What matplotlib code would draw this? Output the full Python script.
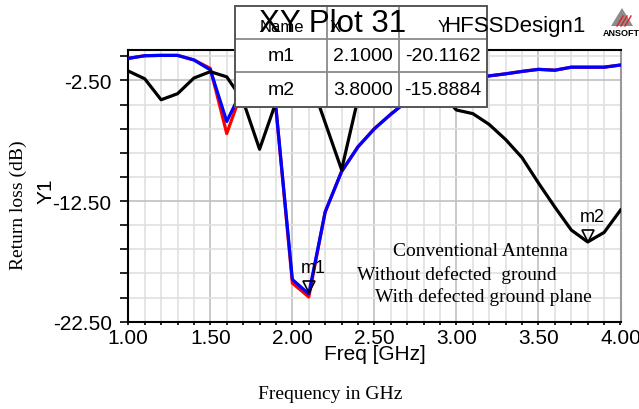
import matplotlib
matplotlib.use("Agg")
import matplotlib.pyplot as plt
from matplotlib.patches import Rectangle, Polygon
from matplotlib.transforms import offset_copy
import numpy as np

# ---------------- data ----------------
freq = [1.0, 1.1, 1.2, 1.3, 1.4, 1.5, 1.6, 1.7, 1.8, 1.9,
        2.0, 2.1, 2.2, 2.3, 2.4, 2.5, 2.6, 2.7, 2.8, 2.9,
        3.0, 3.1, 3.2, 3.3, 3.4, 3.5, 3.6, 3.7, 3.8, 3.9, 4.0]

conventional = [-1.72, -2.36, -4.10, -3.60, -2.30, -1.77, -2.20, -4.20, -8.20, -4.30,
                -2.60, -2.10, -6.00, -9.90, -4.00, -2.40, -1.90, -2.00, -2.60, -3.50,
                -4.95, -5.25, -6.15, -7.40, -8.90, -11.00, -13.00, -14.90, -15.8884, -15.10, -13.25]

without_dgs = [-0.67, -0.45, -0.42, -0.42, -0.80, -1.50, -6.90, -3.10, -3.50, -4.80,
               -19.30, -20.45, -13.40, -10.05, -8.00, -6.50, -5.30, -4.20, -3.60, -3.00,
               -2.60, -2.35, -2.12, -1.95, -1.75, -1.58, -1.65, -1.40, -1.40, -1.40, -1.22]

with_dgs = [-0.67, -0.45, -0.42, -0.42, -0.80, -1.62, -5.90, -3.10, -3.50, -4.80,
            -19.00, -20.20, -13.40, -10.05, -8.00, -6.50, -5.30, -4.20, -3.60, -3.00,
            -2.60, -2.35, -2.12, -1.95, -1.75, -1.58, -1.65, -1.40, -1.40, -1.40, -1.22]

marker_names = ["m1", "m2"]
marker_x = [2.1, 3.8]
marker_y = [-20.1162, -15.8884]

y_major = [-22.5, -12.5, -2.5]
y_labels = ["-22.50", "-12.50", "-2.50"]
x_major = [1.0, 1.5, 2.0, 2.5, 3.0, 3.5, 4.0]
x_labels = ["1.00", "1.50", "2.00", "2.50", "3.00", "3.50", "4.00"]

legend_lines = ["Conventional Antenna", "Without defected  ground", "With defected ground plane"]

# ---------------- figure ----------------
W, H = 639, 410
fig = plt.figure(figsize=(W / 100, H / 100), dpi=100)
plt.rcParams['font.family'] = ['Liberation Sans', 'DejaVu Sans']

def fx(px):
    return px / W

def fy(py):
    return 1 - py / H

L, R, T, B = 128.3, 620.5, 50.7, 322.7
ax = fig.add_axes([fx(L), fy(B), fx(R) - fx(L), fy(T) - fy(B)])
ax.set_xlim(1.0, 4.0)
ax.set_ylim(-22.5, 0.05)

# grid
for xv in np.arange(1.0, 4.001, 0.1):
    major = abs((xv * 2) - round(xv * 2)) < 1e-6
    ax.axvline(xv, color='#c0c0c0' if major else '#e0e0e0', lw=1.2, zorder=0)
for yv in np.arange(-22.5, 0.0, 2.0):
    major = abs(((yv + 2.5) / 10) - round((yv + 2.5) / 10)) < 1e-6
    ax.axhline(yv, color='#c0c0c0' if major else '#e0e0e0', lw=1.2, zorder=0)

ax.plot(freq, without_dgs, color='#ff0000', lw=2.3, zorder=3)
ax.plot(freq, with_dgs, color='#0000ff', lw=2.3, zorder=4)
ax.plot(freq, conventional, color='black', lw=2.3, zorder=5)

# markers
tri_tr = offset_copy(ax.transData, fig=fig, x=0, y=4.5, units='points')
for name, mx, my in zip(marker_names, marker_x, marker_y):
    ax.plot([mx], [my], marker='v', ms=9, mfc='none', mec='black', mew=1.2,
            transform=tri_tr, zorder=6, clip_on=False)
    ax.annotate(name, (mx, my), xytext=(-6, 15), textcoords='offset points',
                ha='left', va='baseline', fontsize=13, zorder=7)

# ticks
ax.set_yticks(y_major)
ax.set_yticklabels(y_labels)
ax.set_yticks(np.arange(-22.5, 0.01, 2.0), minor=True)
ax.set_xticks(x_major)
ax.set_xticklabels(x_labels)
ax.set_xticks(np.arange(1.0, 4.001, 0.1), minor=True)
ax.tick_params(axis='y', which='both', direction='out', length=6, width=1.2,
               labelsize=15, pad=6)
ax.tick_params(axis='x', which='both', direction='out', length=2.5, width=1.2,
               labelsize=15, pad=2)
for s in ['left', 'top', 'bottom']:
    ax.spines[s].set_color('black')
    ax.spines[s].set_linewidth(1.5)
ax.spines['right'].set_color('#999999')
ax.spines['right'].set_linewidth(1.5)

# ---------------- overlay (pixel coordinates) ----------------
ov = fig.add_axes([0, 0, 1, 1])
ov.set_xlim(0, W)
ov.set_ylim(H, 0)
ov.axis('off')
ov.patch.set_alpha(0)

# table
cols = [235, 327, 399, 487]
rows = [7, 40, 73, 108]
ov.add_patch(Rectangle((cols[0], rows[0]), cols[-1] - cols[0], rows[-1] - rows[0],
                       facecolor='white', edgecolor='none', zorder=1))
for c in cols[1:-1]:
    ov.plot([c, c], [rows[0], rows[-1]], color='#8a8a8a', lw=1.3, zorder=2)
for r in rows[1:-1]:
    ov.plot([cols[0], cols[-1]], [r, r], color='#8a8a8a', lw=1.3, zorder=2)
ov.add_patch(Rectangle((cols[0], rows[0]), cols[-1] - cols[0], rows[-1] - rows[0],
                       facecolor='none', edgecolor='#555555', lw=1.4, zorder=3))

hdr_y = 31.5
ov.text(282, hdr_y, "Name", fontsize=12, ha='center', va='baseline', zorder=4)
ov.text(335, hdr_y, "X", fontsize=12, ha='center', va='baseline', zorder=4)
ov.text(443, hdr_y, "Y", fontsize=12, ha='center', va='baseline', zorder=4)

cell_rows = [["m1", "2.1000", "-20.1162"], ["m2", "3.8000", "-15.8884"]]
for i, rowvals in enumerate(cell_rows):
    yc = (rows[i + 1] + rows[i + 2]) / 2
    for j, val in enumerate(rowvals):
        xc = (cols[j] + cols[j + 1]) / 2
        ov.text(xc, yc, val, fontsize=14, ha='center', va='center', zorder=4)

# title texts
ov.text(333, 32.5, "XY Plot 31", fontsize=22.5, ha='center', va='baseline', zorder=5)
ov.text(444, 32, "HFSSDesign1", fontsize=16, ha='left', va='baseline', zorder=5)

# logo
ov.add_patch(Polygon([[622, 9], [611, 27], [633, 27]], closed=True,
                     facecolor='#8c8c8c', edgecolor='none', zorder=4))
for k in range(3):
    ov.plot([617 + 4 * k, 623 + 4 * k], [27, 17], color='#e02020', lw=1.0, zorder=5)
ov.text(621, 34, "ANSOFT", fontsize=6.5, ha='center', va='center', fontweight='bold',
        zorder=5)

# axis labels
ov.text(L + (R - L) / 2, 345, "Freq [GHz]", fontsize=15, ha='center', va='top')
ov.text(330, 395, "Frequency in GHz", fontsize=14, ha='center', va='center',
        family=['Liberation Serif', 'DejaVu Serif'])
ov.text(46, 191, "Y1", fontsize=15, ha='center', va='center', rotation=90)
ov.text(18, 205, "Return loss (dB)", fontsize=14, ha='center', va='center', rotation=90,
        family=['Liberation Serif', 'DejaVu Serif'])

# legend-like annotations
leg_pos = [(393, 251.5), (357, 275.5), (375, 297.5)]
for txt, (lx, ly) in zip(legend_lines, leg_pos):
    ov.text(lx, ly, txt, fontsize=14, ha='left', va='center',
            family=['Liberation Serif', 'DejaVu Serif'])

fig.savefig("out.png", dpi=100)
